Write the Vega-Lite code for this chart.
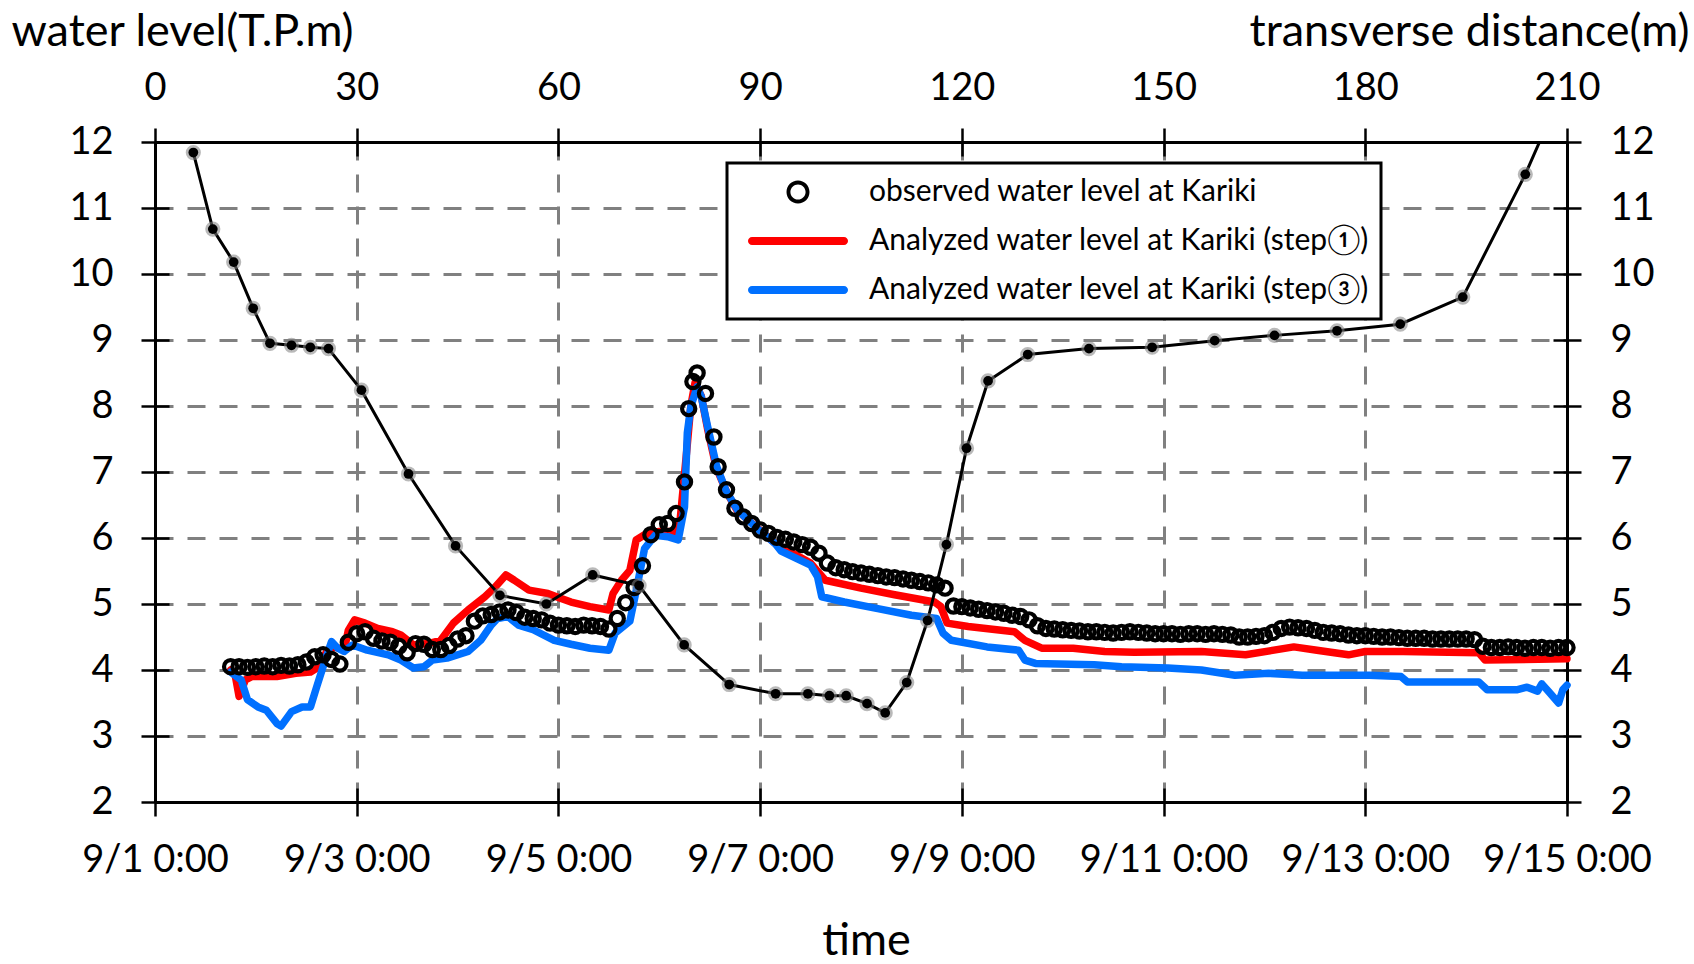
{
  "$schema": "https://vega.github.io/schema/vega-lite/v6.json",
  "width": 1412,
  "height": 660,
  "autosize": {"type": "none"},
  "padding": {"left": 155, "top": 142, "right": 127, "bottom": 162},
  "background": "white",
  "config": {
    "font": "Lato",
    "view": {"stroke": null},
    "axis": {
      "labelFont": "Lato", "titleFont": "Lato", "labelColor": "#000", "titleColor": "#000",
      "domainColor": "#000", "tickColor": "#000", "labelFontSize": 38, "titleFontSize": 45,
      "titleFontWeight": "normal", "domainWidth": 3, "tickWidth": 2.5, "tickSize": 14,
      "gridColor": "#808080", "gridWidth": 3, "gridDash": [18, 14]
    }
  },
  "datasets": {
    "obs": [
      {"time":"2015-09-01T18:00","level":4.05},{"time":"2015-09-01T20:00","level":4.05},{"time":"2015-09-01T22:00","level":4.04},
      {"time":"2015-09-02T00:00","level":4.05},{"time":"2015-09-02T02:00","level":4.06},{"time":"2015-09-02T04:00","level":4.05},
      {"time":"2015-09-02T06:00","level":4.07},{"time":"2015-09-02T08:00","level":4.06},{"time":"2015-09-02T10:00","level":4.08},
      {"time":"2015-09-02T12:00","level":4.12},{"time":"2015-09-02T14:00","level":4.20},{"time":"2015-09-02T16:00","level":4.23},
      {"time":"2015-09-02T18:00","level":4.16},{"time":"2015-09-02T20:00","level":4.09},{"time":"2015-09-02T22:00","level":4.42},
      {"time":"2015-09-03T00:00","level":4.55},{"time":"2015-09-03T02:00","level":4.58},{"time":"2015-09-03T04:00","level":4.48},
      {"time":"2015-09-03T06:00","level":4.44},{"time":"2015-09-03T08:00","level":4.42},{"time":"2015-09-03T10:00","level":4.36},
      {"time":"2015-09-03T12:00","level":4.26},{"time":"2015-09-03T14:00","level":4.40},{"time":"2015-09-03T16:00","level":4.39},
      {"time":"2015-09-03T18:00","level":4.31},{"time":"2015-09-03T20:00","level":4.31},{"time":"2015-09-03T22:00","level":4.37},
      {"time":"2015-09-04T00:00","level":4.47},{"time":"2015-09-04T02:00","level":4.52},{"time":"2015-09-04T04:00","level":4.74},
      {"time":"2015-09-04T06:00","level":4.82},{"time":"2015-09-04T08:00","level":4.84},{"time":"2015-09-04T10:00","level":4.88},
      {"time":"2015-09-04T12:00","level":4.91},{"time":"2015-09-04T14:00","level":4.87},{"time":"2015-09-04T16:00","level":4.80},
      {"time":"2015-09-04T18:00","level":4.78},{"time":"2015-09-04T20:00","level":4.76},{"time":"2015-09-04T22:00","level":4.71},
      {"time":"2015-09-05T00:00","level":4.68},{"time":"2015-09-05T02:00","level":4.67},{"time":"2015-09-05T04:00","level":4.66},
      {"time":"2015-09-05T06:00","level":4.68},{"time":"2015-09-05T08:00","level":4.67},{"time":"2015-09-05T10:00","level":4.66},
      {"time":"2015-09-05T12:00","level":4.62},{"time":"2015-09-05T14:00","level":4.78},{"time":"2015-09-05T16:00","level":5.02},
      {"time":"2015-09-05T18:00","level":5.25},{"time":"2015-09-05T20:00","level":5.58},{"time":"2015-09-05T22:00","level":6.05},
      {"time":"2015-09-06T00:00","level":6.20},{"time":"2015-09-06T02:00","level":6.22},{"time":"2015-09-06T04:00","level":6.37},
      {"time":"2015-09-06T06:00","level":6.85},{"time":"2015-09-06T07:00","level":7.96},{"time":"2015-09-06T08:00","level":8.37},
      {"time":"2015-09-06T09:00","level":8.50},{"time":"2015-09-06T11:00","level":8.19},{"time":"2015-09-06T13:00","level":7.53},
      {"time":"2015-09-06T14:00","level":7.08},{"time":"2015-09-06T16:00","level":6.73},{"time":"2015-09-06T18:00","level":6.45},
      {"time":"2015-09-06T20:00","level":6.32},{"time":"2015-09-06T22:00","level":6.22},{"time":"2015-09-07T00:00","level":6.12},
      {"time":"2015-09-07T02:00","level":6.07},{"time":"2015-09-07T04:00","level":6.01},{"time":"2015-09-07T06:00","level":5.98},
      {"time":"2015-09-07T08:00","level":5.94},{"time":"2015-09-07T10:00","level":5.90},{"time":"2015-09-07T12:00","level":5.86},
      {"time":"2015-09-07T14:00","level":5.77},{"time":"2015-09-07T16:00","level":5.62},{"time":"2015-09-07T18:00","level":5.55},
      {"time":"2015-09-07T20:00","level":5.52},{"time":"2015-09-07T22:00","level":5.49},{"time":"2015-09-08T00:00","level":5.47},
      {"time":"2015-09-08T02:00","level":5.45},{"time":"2015-09-08T04:00","level":5.43},{"time":"2015-09-08T06:00","level":5.41},
      {"time":"2015-09-08T08:00","level":5.40},{"time":"2015-09-08T10:00","level":5.38},{"time":"2015-09-08T12:00","level":5.36},
      {"time":"2015-09-08T14:00","level":5.34},{"time":"2015-09-08T16:00","level":5.32},{"time":"2015-09-08T18:00","level":5.29},
      {"time":"2015-09-08T20:00","level":5.24},{"time":"2015-09-08T22:00","level":4.97},{"time":"2015-09-09T00:00","level":4.96},
      {"time":"2015-09-09T02:00","level":4.94},{"time":"2015-09-09T04:00","level":4.92},{"time":"2015-09-09T06:00","level":4.90},
      {"time":"2015-09-09T08:00","level":4.88},{"time":"2015-09-09T10:00","level":4.86},{"time":"2015-09-09T12:00","level":4.83},
      {"time":"2015-09-09T14:00","level":4.81},{"time":"2015-09-09T16:00","level":4.76},{"time":"2015-09-09T18:00","level":4.67},
      {"time":"2015-09-09T20:00","level":4.63},{"time":"2015-09-09T22:00","level":4.62},{"time":"2015-09-10T00:00","level":4.61},
      {"time":"2015-09-10T02:00","level":4.60},{"time":"2015-09-10T04:00","level":4.59},{"time":"2015-09-10T06:00","level":4.58},
      {"time":"2015-09-10T08:00","level":4.58},{"time":"2015-09-10T10:00","level":4.57},{"time":"2015-09-10T12:00","level":4.56},
      {"time":"2015-09-10T14:00","level":4.57},{"time":"2015-09-10T16:00","level":4.58},{"time":"2015-09-10T18:00","level":4.57},
      {"time":"2015-09-10T20:00","level":4.56},{"time":"2015-09-10T22:00","level":4.55},{"time":"2015-09-11T00:00","level":4.55},
      {"time":"2015-09-11T02:00","level":4.55},{"time":"2015-09-11T04:00","level":4.54},{"time":"2015-09-11T06:00","level":4.55},
      {"time":"2015-09-11T08:00","level":4.55},{"time":"2015-09-11T10:00","level":4.54},{"time":"2015-09-11T12:00","level":4.55},
      {"time":"2015-09-11T14:00","level":4.54},{"time":"2015-09-11T16:00","level":4.53},{"time":"2015-09-11T18:00","level":4.50},
      {"time":"2015-09-11T20:00","level":4.50},{"time":"2015-09-11T22:00","level":4.51},{"time":"2015-09-12T00:00","level":4.52},
      {"time":"2015-09-12T02:00","level":4.57},{"time":"2015-09-12T04:00","level":4.63},{"time":"2015-09-12T06:00","level":4.65},
      {"time":"2015-09-12T08:00","level":4.64},{"time":"2015-09-12T10:00","level":4.63},{"time":"2015-09-12T12:00","level":4.60},
      {"time":"2015-09-12T14:00","level":4.57},{"time":"2015-09-12T16:00","level":4.56},{"time":"2015-09-12T18:00","level":4.55},
      {"time":"2015-09-12T20:00","level":4.53},{"time":"2015-09-12T22:00","level":4.52},{"time":"2015-09-13T00:00","level":4.52},
      {"time":"2015-09-13T02:00","level":4.51},{"time":"2015-09-13T04:00","level":4.50},{"time":"2015-09-13T06:00","level":4.50},
      {"time":"2015-09-13T08:00","level":4.49},{"time":"2015-09-13T10:00","level":4.48},{"time":"2015-09-13T12:00","level":4.48},
      {"time":"2015-09-13T14:00","level":4.48},{"time":"2015-09-13T16:00","level":4.47},{"time":"2015-09-13T18:00","level":4.47},
      {"time":"2015-09-13T20:00","level":4.47},{"time":"2015-09-13T22:00","level":4.47},{"time":"2015-09-14T00:00","level":4.47},
      {"time":"2015-09-14T02:00","level":4.46},{"time":"2015-09-14T04:00","level":4.36},{"time":"2015-09-14T06:00","level":4.34},
      {"time":"2015-09-14T08:00","level":4.34},{"time":"2015-09-14T10:00","level":4.35},{"time":"2015-09-14T12:00","level":4.34},
      {"time":"2015-09-14T14:00","level":4.33},{"time":"2015-09-14T16:00","level":4.34},{"time":"2015-09-14T18:00","level":4.34},
      {"time":"2015-09-14T20:00","level":4.33},{"time":"2015-09-14T22:00","level":4.34},{"time":"2015-09-15T00:00","level":4.34}
    ],
    "step1": [
      {"time":"2015-09-01T18:00","level":4.00},{"time":"2015-09-01T19:00","level":3.95},{"time":"2015-09-01T20:00","level":3.60},
      {"time":"2015-09-01T21:30","level":3.85},{"time":"2015-09-01T23:00","level":3.90},{"time":"2015-09-02T05:00","level":3.90},
      {"time":"2015-09-02T09:30","level":3.95},{"time":"2015-09-02T13:00","level":3.97},{"time":"2015-09-02T15:00","level":4.05},
      {"time":"2015-09-02T17:00","level":4.30},{"time":"2015-09-02T19:00","level":4.35},{"time":"2015-09-02T21:00","level":4.30},
      {"time":"2015-09-02T22:00","level":4.60},{"time":"2015-09-02T23:30","level":4.76},{"time":"2015-09-03T02:00","level":4.71},
      {"time":"2015-09-03T05:00","level":4.63},{"time":"2015-09-03T08:30","level":4.58},{"time":"2015-09-03T10:30","level":4.53},
      {"time":"2015-09-03T13:30","level":4.38},{"time":"2015-09-03T17:00","level":4.40},{"time":"2015-09-03T20:00","level":4.45},
      {"time":"2015-09-03T23:00","level":4.71},{"time":"2015-09-04T02:30","level":4.91},{"time":"2015-09-04T06:30","level":5.11},
      {"time":"2015-09-04T09:00","level":5.26},{"time":"2015-09-04T11:30","level":5.44},{"time":"2015-09-04T13:30","level":5.36},
      {"time":"2015-09-04T17:00","level":5.21},{"time":"2015-09-04T21:30","level":5.16},{"time":"2015-09-05T00:00","level":5.10},
      {"time":"2015-09-05T03:00","level":5.03},{"time":"2015-09-05T07:30","level":4.96},{"time":"2015-09-05T12:00","level":4.91},
      {"time":"2015-09-05T13:00","level":5.16},{"time":"2015-09-05T15:00","level":5.36},{"time":"2015-09-05T17:00","level":5.51},
      {"time":"2015-09-05T18:30","level":5.97},{"time":"2015-09-05T20:30","level":6.05},{"time":"2015-09-06T00:00","level":6.10},
      {"time":"2015-09-06T04:00","level":6.10},{"time":"2015-09-06T05:00","level":6.30},{"time":"2015-09-06T06:30","level":7.30},
      {"time":"2015-09-06T07:30","level":8.00},{"time":"2015-09-06T08:30","level":8.35},{"time":"2015-09-06T10:00","level":8.15},
      {"time":"2015-09-06T11:30","level":7.65},{"time":"2015-09-06T13:30","level":7.08},{"time":"2015-09-06T16:00","level":6.70},
      {"time":"2015-09-06T18:30","level":6.42},{"time":"2015-09-06T23:00","level":6.17},{"time":"2015-09-07T03:30","level":5.92},
      {"time":"2015-09-07T12:00","level":5.62},{"time":"2015-09-07T15:30","level":5.36},{"time":"2015-09-08T00:00","level":5.24},
      {"time":"2015-09-08T08:00","level":5.14},{"time":"2015-09-08T17:30","level":5.03},{"time":"2015-09-08T19:00","level":4.96},
      {"time":"2015-09-08T20:30","level":4.71},{"time":"2015-09-09T01:30","level":4.66},{"time":"2015-09-09T12:30","level":4.58},
      {"time":"2015-09-09T15:00","level":4.45},{"time":"2015-09-09T19:00","level":4.33},{"time":"2015-09-10T02:30","level":4.33},
      {"time":"2015-09-10T10:00","level":4.28},{"time":"2015-09-10T17:00","level":4.27},{"time":"2015-09-11T09:00","level":4.28},
      {"time":"2015-09-11T19:30","level":4.23},{"time":"2015-09-12T07:00","level":4.35},{"time":"2015-09-12T12:30","level":4.30},
      {"time":"2015-09-12T20:00","level":4.23},{"time":"2015-09-13T00:00","level":4.28},{"time":"2015-09-13T09:00","level":4.28},
      {"time":"2015-09-14T03:00","level":4.26},{"time":"2015-09-14T04:30","level":4.15},{"time":"2015-09-15T00:00","level":4.17}
    ],
    "step3": [
      {"time":"2015-09-01T18:00","level":3.97},{"time":"2015-09-01T20:30","level":3.85},{"time":"2015-09-01T22:00","level":3.55},
      {"time":"2015-09-02T00:30","level":3.44},{"time":"2015-09-02T02:30","level":3.39},{"time":"2015-09-02T05:00","level":3.19},
      {"time":"2015-09-02T06:00","level":3.15},{"time":"2015-09-02T08:30","level":3.37},{"time":"2015-09-02T11:00","level":3.44},
      {"time":"2015-09-02T13:00","level":3.44},{"time":"2015-09-02T14:30","level":3.75},{"time":"2015-09-02T16:30","level":4.15},
      {"time":"2015-09-02T18:00","level":4.43},{"time":"2015-09-02T19:30","level":4.33},{"time":"2015-09-02T21:00","level":4.28},
      {"time":"2015-09-02T23:00","level":4.38},{"time":"2015-09-03T02:30","level":4.30},{"time":"2015-09-03T07:30","level":4.23},
      {"time":"2015-09-03T10:30","level":4.15},{"time":"2015-09-03T13:30","level":4.03},{"time":"2015-09-03T16:00","level":4.05},
      {"time":"2015-09-03T18:00","level":4.15},{"time":"2015-09-03T21:30","level":4.18},{"time":"2015-09-04T02:30","level":4.28},
      {"time":"2015-09-04T05:30","level":4.45},{"time":"2015-09-04T08:00","level":4.68},{"time":"2015-09-04T09:30","level":4.78},
      {"time":"2015-09-04T12:00","level":4.81},{"time":"2015-09-04T14:30","level":4.68},{"time":"2015-09-04T18:00","level":4.61},
      {"time":"2015-09-04T23:00","level":4.45},{"time":"2015-09-05T03:00","level":4.39},{"time":"2015-09-05T07:30","level":4.33},
      {"time":"2015-09-05T12:00","level":4.30},{"time":"2015-09-05T13:30","level":4.56},{"time":"2015-09-05T17:00","level":4.74},
      {"time":"2015-09-05T18:30","level":5.20},{"time":"2015-09-05T20:30","level":5.84},{"time":"2015-09-05T23:00","level":6.04},
      {"time":"2015-09-06T02:00","level":6.02},{"time":"2015-09-06T04:30","level":5.97},{"time":"2015-09-06T06:00","level":6.47},
      {"time":"2015-09-06T06:40","level":7.59},{"time":"2015-09-06T07:30","level":7.99},{"time":"2015-09-06T09:00","level":8.29},
      {"time":"2015-09-06T10:00","level":8.14},{"time":"2015-09-06T11:30","level":7.69},{"time":"2015-09-06T13:40","level":7.08},
      {"time":"2015-09-06T16:00","level":6.70},{"time":"2015-09-06T18:40","level":6.42},{"time":"2015-09-06T22:50","level":6.17},
      {"time":"2015-09-07T03:30","level":5.92},{"time":"2015-09-07T05:00","level":5.80},{"time":"2015-09-07T12:00","level":5.59},
      {"time":"2015-09-07T13:40","level":5.41},{"time":"2015-09-07T14:40","level":5.11},{"time":"2015-09-07T20:00","level":5.03},
      {"time":"2015-09-08T04:00","level":4.93},{"time":"2015-09-08T12:00","level":4.83},{"time":"2015-09-08T18:00","level":4.78},
      {"time":"2015-09-08T19:30","level":4.56},{"time":"2015-09-08T21:30","level":4.45},{"time":"2015-09-09T06:00","level":4.35},
      {"time":"2015-09-09T13:30","level":4.30},{"time":"2015-09-09T15:00","level":4.15},{"time":"2015-09-09T17:30","level":4.10},
      {"time":"2015-09-10T07:30","level":4.08},{"time":"2015-09-10T14:00","level":4.05},{"time":"2015-09-11T01:00","level":4.03},
      {"time":"2015-09-11T09:00","level":4.00},{"time":"2015-09-11T17:00","level":3.92},{"time":"2015-09-12T01:00","level":3.95},
      {"time":"2015-09-12T09:00","level":3.92},{"time":"2015-09-13T01:00","level":3.92},{"time":"2015-09-13T08:30","level":3.90},
      {"time":"2015-09-13T10:00","level":3.82},{"time":"2015-09-14T03:00","level":3.82},{"time":"2015-09-14T05:00","level":3.70},
      {"time":"2015-09-14T12:00","level":3.70},{"time":"2015-09-14T14:30","level":3.74},{"time":"2015-09-14T17:00","level":3.68},
      {"time":"2015-09-14T18:00","level":3.79},{"time":"2015-09-14T19:40","level":3.67},{"time":"2015-09-14T22:00","level":3.50},
      {"time":"2015-09-14T23:00","level":3.70},{"time":"2015-09-15T00:00","level":3.77}
    ],
    "cross": [
      {"distance":5.7,"elevation":11.84},{"distance":8.6,"elevation":10.68},{"distance":11.7,"elevation":10.18},
      {"distance":14.6,"elevation":9.48},{"distance":17.1,"elevation":8.95},{"distance":20.3,"elevation":8.92},
      {"distance":23.1,"elevation":8.89},{"distance":25.8,"elevation":8.87},{"distance":30.7,"elevation":8.24},
      {"distance":37.7,"elevation":6.97},{"distance":44.7,"elevation":5.88},{"distance":51.3,"elevation":5.13},
      {"distance":58.2,"elevation":5.00},{"distance":65.1,"elevation":5.44},{"distance":72.0,"elevation":5.28},
      {"distance":78.7,"elevation":4.38},{"distance":85.4,"elevation":3.78},{"distance":92.3,"elevation":3.64},
      {"distance":97.1,"elevation":3.64},{"distance":100.3,"elevation":3.61},{"distance":102.8,"elevation":3.61},
      {"distance":105.9,"elevation":3.49},{"distance":108.6,"elevation":3.35},{"distance":111.8,"elevation":3.81},
      {"distance":114.9,"elevation":4.75},{"distance":117.7,"elevation":5.90},{"distance":120.7,"elevation":7.36},
      {"distance":123.9,"elevation":8.38},{"distance":129.8,"elevation":8.78},{"distance":138.9,"elevation":8.87},
      {"distance":148.3,"elevation":8.89},{"distance":157.6,"elevation":8.99},{"distance":166.5,"elevation":9.07},
      {"distance":175.8,"elevation":9.14},{"distance":185.2,"elevation":9.24},{"distance":194.5,"elevation":9.65},
      {"distance":203.8,"elevation":11.51},{"distance":210.0,"elevation":12.95}
    ]
  },
  "layer": [
    {
      "layer": [
        {
          "data": {"name": "step1"},
          "mark": {"type": "line", "strokeWidth": 7.5, "strokeJoin": "round", "strokeCap": "round"},
          "encoding": {
            "x": {"field": "time", "type": "temporal",
              "scale": {"domain": [{"year": 2015, "month": 9, "date": 1}, {"year": 2015, "month": 9, "date": 15}], "nice": false},
              "axis": {"orient": "bottom",
                "values": [{"year": 2015, "month": 9, "date": 1}, {"year": 2015, "month": 9, "date": 3}, {"year": 2015, "month": 9, "date": 5}, {"year": 2015, "month": 9, "date": 7}, {"year": 2015, "month": 9, "date": 9}, {"year": 2015, "month": 9, "date": 11}, {"year": 2015, "month": 9, "date": 13}, {"year": 2015, "month": 9, "date": 15}],
                "format": "%-m/%-d %-H:%M", "labelPadding": 25, "labelFlush": false, "labelOverlap": false,
                "grid": true,
                "title": "time", "titleX": 711, "titleY": 152, "titleBaseline": "alphabetic", "titleAlign": "center"}},
            "y": {"field": "level", "type": "quantitative",
              "scale": {"domain": [2, 12], "nice": false, "zero": false},
              "axis": {"orient": "left", "values": [2, 3, 4, 5, 6, 7, 8, 9, 10, 11, 12], "labelPadding": 28,
                "grid": true,
                "title": "water level(T.P.m)", "titleAngle": 0, "titleX": -144, "titleY": -97, "titleAlign": "left", "titleBaseline": "alphabetic"}},
            "color": {"datum": "Analyzed water level at Kariki (step①)", "type": "nominal",
              "scale": {"domain": ["observed water level at Kariki", "Analyzed water level at Kariki (step①)", "Analyzed water level at Kariki (step③)"], "range": ["#000000", "#FF0000", "#0070FF"]},
              "legend": {"title": null, "orient": "none", "legendX": 572, "legendY": 21,
                "fillColor": "white", "strokeColor": "black", "padding": 11,
                "labelFont": "Lato, Noto Sans CJK JP", "labelFontSize": 30, "labelColor": "#000", "labelLimit": 0,
                "clipHeight": 36, "rowPadding": 13, "symbolSize": 8464, "symbolOffset": 14, "labelOffset": 25,
                "symbolStrokeWidth": 0, "symbolType": "stroke",
                "encode": {
                  "legend": {"update": {"strokeWidth": {"value": 3}}},
                  "symbols": {"update": {
                    "shape": {"signal": "datum.value === 'observed water level at Kariki' ? 'M0.25,0A0.25,0.25,0,1,1,-0.25,0A0.25,0.25,0,1,1,0.25,0ZM0.165,0A0.165,0.165,0,1,0,-0.165,0A0.165,0.165,0,1,0,0.165,0Z' : 'M-1,-0.087H1A0.087,0.087,0,0,1,1,0.087H-1A0.087,0.087,0,0,1,-1,-0.087Z'"},
                    "fill": {"scale": "color", "field": "value"},
                    "stroke": {"value": "transparent"}
                  }}
                }}}
          }
        },
        {
          "data": {"name": "step3"},
          "mark": {"type": "line", "strokeWidth": 7.5, "strokeJoin": "round", "strokeCap": "round"},
          "encoding": {
            "x": {"field": "time", "type": "temporal",
              "axis": {"orient": "bottom",
                "values": [{"year": 2015, "month": 9, "date": 1}, {"year": 2015, "month": 9, "date": 3}, {"year": 2015, "month": 9, "date": 5}, {"year": 2015, "month": 9, "date": 7}, {"year": 2015, "month": 9, "date": 9}, {"year": 2015, "month": 9, "date": 11}, {"year": 2015, "month": 9, "date": 13}, {"year": 2015, "month": 9, "date": 15}],
                "tickSize": -14, "labels": false, "domain": false, "grid": false, "title": null}},
            "y": {"field": "level", "type": "quantitative",
              "axis": {"orient": "left", "values": [2, 3, 4, 5, 6, 7, 8, 9, 10, 11, 12], "tickSize": -14, "labels": false, "domain": false, "grid": false, "title": null}},
            "color": {"datum": "Analyzed water level at Kariki (step③)", "type": "nominal"}
          }
        },
        {
          "data": {"name": "obs"},
          "mark": {"type": "point", "filled": false, "size": 175, "strokeWidth": 4.2, "opacity": 1},
          "encoding": {
            "x": {"field": "time", "type": "temporal",
              "axis": {"orient": "top",
                "values": [{"year": 2015, "month": 9, "date": 1}, {"year": 2015, "month": 9, "date": 3}, {"year": 2015, "month": 9, "date": 5}, {"year": 2015, "month": 9, "date": 7}, {"year": 2015, "month": 9, "date": 9}, {"year": 2015, "month": 9, "date": 11}, {"year": 2015, "month": 9, "date": 13}, {"year": 2015, "month": 9, "date": 15}],
                "tickSize": -14, "labels": false, "domain": false, "grid": false, "title": null}},
            "y": {"field": "level", "type": "quantitative",
              "axis": {"orient": "right", "values": [2, 3, 4, 5, 6, 7, 8, 9, 10, 11, 12], "tickSize": -14, "labels": false, "domain": false, "grid": false, "title": null}},
            "color": {"datum": "observed water level at Kariki", "type": "nominal"}
          }
        }
      ],
      "resolve": {"axis": {"x": "independent", "y": "independent"}}
    },
    {
      "data": {"name": "cross"},
      "encoding": {
        "x": {"field": "distance", "type": "quantitative",
          "scale": {"domain": [0, 210], "nice": false, "zero": false},
          "axis": {"orient": "top", "values": [0, 30, 60, 90, 120, 150, 180, 210], "labelPadding": 21, "labelFlush": false, "grid": false,
            "title": "transverse distance(m)", "titleX": 1534, "titleY": -97, "titleAlign": "right", "titleBaseline": "alphabetic", "titleAngle": 0}},
        "y": {"field": "elevation", "type": "quantitative",
          "scale": {"domain": [2, 12], "nice": false, "zero": false},
          "axis": {"orient": "right", "values": [2, 3, 4, 5, 6, 7, 8, 9, 10, 11, 12], "labelPadding": 29, "grid": false, "title": null}}
      },
      "layer": [
        {"mark": {"type": "line", "color": "#000000", "strokeWidth": 3, "clip": true}},
        {"mark": {"type": "point", "filled": true, "fill": "#808080", "size": 230, "strokeWidth": 0, "opacity": 0.55, "clip": true}},
        {"mark": {"type": "point", "filled": true, "fill": "#000000", "size": 95, "strokeWidth": 0, "opacity": 1, "clip": true}}
      ]
    }
  ],
  "resolve": {"scale": {"x": "independent"}, "axis": {"x": "independent", "y": "independent"}}
}
